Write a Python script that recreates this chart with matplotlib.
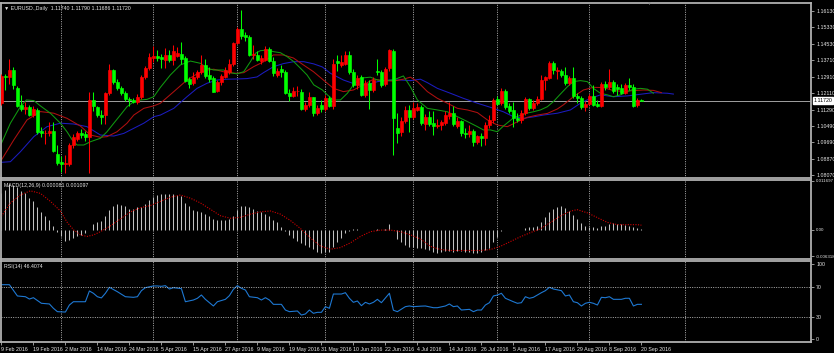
import matplotlib
matplotlib.use("Agg")
import matplotlib.pyplot as plt
import matplotlib.transforms as mtransforms
import numpy as np

plt.rcParams['font.family'] = ['Liberation Sans', 'DejaVu Sans']

# date labels, one every 8 bars starting at bar 0
date_labels = ['9 Feb 2016', '19 Feb 2016', '2 Mar 2016', '14 Mar 2016', '24 Mar 2016',
               '5 Apr 2016', '15 Apr 2016', '27 Apr 2016', '9 May 2016', '19 May 2016',
               '31 May 2016', '10 Jun 2016', '22 Jun 2016', '4 Jul 2016', '14 Jul 2016',
               '26 Jul 2016', '5 Aug 2016', '17 Aug 2016', '29 Aug 2016', '8 Sep 2016',
               '20 Sep 2016']
month_start_bars = [15, 38, 59, 81, 103, 124, 147, 171]

# EURUSD daily OHLC, 9 Feb 2016 .. 20 Sep 2016
opens = [1.1160, 1.1294, 1.1290, 1.1325, 1.1236, 1.1150, 1.1133, 1.1140, 1.1104, 1.1128,
         1.1022, 1.1012, 1.1014, 1.1024, 1.0912, 1.0870, 1.0862, 1.0864, 1.0956, 1.0985,
         1.1013, 1.1008, 1.0995, 1.1176, 1.1141, 1.1100, 1.1102, 1.1209, 1.1323, 1.1266,
         1.1233, 1.1210, 1.1180, 1.1178, 1.1166, 1.1192, 1.1290, 1.1332, 1.1380, 1.1392,
         1.1385, 1.1372, 1.1397, 1.1370, 1.1392, 1.1402, 1.1381, 1.1277, 1.1257, 1.1287,
         1.1315, 1.1348, 1.1297, 1.1283, 1.1220, 1.1266, 1.1290, 1.1315, 1.1353, 1.1457,
         1.1525, 1.1497, 1.1484, 1.1397, 1.1397, 1.1366, 1.1370, 1.1425, 1.1368, 1.1298,
         1.1330, 1.1312, 1.1212, 1.1196, 1.1218, 1.1217, 1.1130, 1.1149, 1.1189, 1.1110,
         1.1150, 1.1130, 1.1184, 1.1146, 1.1365, 1.1350, 1.1355, 1.1397, 1.1315, 1.1250,
         1.1287, 1.1200, 1.1258, 1.1225, 1.1320, 1.1313, 1.1252, 1.1332, 1.1417, 1.1037,
         1.1017, 1.1074, 1.1127, 1.1094, 1.1128, 1.1143, 1.1060, 1.1091, 1.1062, 1.1048,
         1.1055, 1.1062, 1.1095, 1.1110, 1.1050, 1.1074, 1.1015, 1.1010, 1.1025, 1.0971,
         1.1000, 1.0990, 1.1053, 1.1078, 1.1180, 1.1160, 1.1222, 1.1145, 1.1125, 1.1086,
         1.1080, 1.1112, 1.1181, 1.1135, 1.1163, 1.1181, 1.1274, 1.1285, 1.1356, 1.1318,
         1.1320, 1.1300, 1.1258, 1.1283, 1.1196, 1.1187, 1.1140, 1.1156, 1.1196, 1.1155,
         1.1148, 1.1252, 1.1240, 1.1266, 1.1240, 1.1236, 1.1212, 1.1248, 1.1240, 1.1150,
         1.1174]
highs = [1.1305, 1.1305, 1.1376, 1.1340, 1.1245, 1.1200, 1.1168, 1.1150, 1.1148, 1.1135,
         1.1042, 1.1030, 1.1068, 1.1068, 1.0955, 1.0900, 1.0905, 1.0965, 1.1010, 1.1025,
         1.1035, 1.1025, 1.1217, 1.1215, 1.1148, 1.1125, 1.1215, 1.1355, 1.1330, 1.1280,
         1.1245, 1.1220, 1.1190, 1.1185, 1.1205, 1.1300, 1.1345, 1.1407, 1.1440, 1.1420,
         1.1400, 1.1430, 1.1420, 1.1446, 1.1435, 1.1463, 1.1390, 1.1290, 1.1315, 1.1325,
         1.1395, 1.1378, 1.1340, 1.1295, 1.1275, 1.1305, 1.1338, 1.1375, 1.1462, 1.1535,
         1.1616, 1.1510, 1.1493, 1.1445, 1.1415, 1.1395, 1.1440, 1.1435, 1.1385, 1.1335,
         1.1350, 1.1325, 1.1230, 1.1240, 1.1245, 1.1230, 1.1168, 1.1215, 1.1193, 1.1150,
         1.1176, 1.1200, 1.1195, 1.1375, 1.1395, 1.1395, 1.1415, 1.1415, 1.1330, 1.1298,
         1.1298, 1.1275, 1.1275, 1.1290, 1.1378, 1.1322, 1.1340, 1.1428, 1.1425, 1.1112,
         1.1090, 1.1147, 1.1152, 1.1165, 1.1160, 1.1150, 1.1105, 1.1120, 1.1120, 1.1085,
         1.1080, 1.1120, 1.1165, 1.1145, 1.1090, 1.1080, 1.1040, 1.1055, 1.1035, 1.1005,
         1.1015, 1.1070, 1.1100, 1.1186, 1.1195, 1.1235, 1.1230, 1.1160, 1.1165, 1.1110,
         1.1125, 1.1190, 1.1185, 1.1175, 1.1195, 1.1300, 1.1295, 1.1366, 1.1365, 1.1340,
         1.1330, 1.1340, 1.1295, 1.1340, 1.1210, 1.1195, 1.1170, 1.1205, 1.1250, 1.1175,
         1.1265, 1.1270, 1.1327, 1.1275, 1.1255, 1.1255, 1.1260, 1.1285, 1.1255, 1.1186,
         1.1179]
lows = [1.1150, 1.1225, 1.1256, 1.1230, 1.1140, 1.1120, 1.1105, 1.1095, 1.1090, 1.1010,
        1.0995, 1.0958, 1.1000, 1.0920, 1.0857, 1.0820, 1.0818, 1.0850, 1.0940, 1.0975,
        1.0990, 1.0975, 1.0818, 1.1120, 1.1090, 1.1060, 1.1060, 1.1200, 1.1255, 1.1225,
        1.1200, 1.1170, 1.1145, 1.1160, 1.1155, 1.1180, 1.1280, 1.1325, 1.1360, 1.1365,
        1.1335, 1.1332, 1.1360, 1.1348, 1.1385, 1.1355, 1.1265, 1.1235, 1.1250, 1.1280,
        1.1305, 1.1285, 1.1265, 1.1215, 1.1215, 1.1250, 1.1285, 1.1305, 1.1345, 1.1450,
        1.1475, 1.1465, 1.1390, 1.1375, 1.1365, 1.1355, 1.1365, 1.1360, 1.1295, 1.1290,
        1.1290, 1.1205, 1.1170, 1.1190, 1.1195, 1.1125, 1.1120, 1.1140, 1.1098, 1.1100,
        1.1118, 1.1122, 1.1140, 1.1130, 1.1320, 1.1340, 1.1350, 1.1305, 1.1240, 1.1232,
        1.1195, 1.1190, 1.1130, 1.1215, 1.1300, 1.1240, 1.1245, 1.1320, 1.0906, 1.0965,
        1.1000, 1.1065, 1.1020, 1.1085, 1.1120, 1.1055, 1.1030, 1.1050, 1.1004, 1.1040,
        1.1030, 1.1055, 1.1085, 1.1050, 1.1040, 1.1000, 1.0990, 1.0995, 1.0950, 1.0960,
        1.0952, 1.0955, 1.1040, 1.1065, 1.1150, 1.1150, 1.1130, 1.1110, 1.1045, 1.1070,
        1.1065, 1.1100, 1.1125, 1.1125, 1.1150, 1.1175, 1.1225, 1.1280, 1.1305, 1.1280,
        1.1290, 1.1250, 1.1250, 1.1185, 1.1160, 1.1130, 1.1120, 1.1150, 1.1145, 1.1140,
        1.1140, 1.1225, 1.1230, 1.1210, 1.1200, 1.1205, 1.1205, 1.1225, 1.1140, 1.1140,
        1.11686]
closes = [1.1294, 1.1290, 1.1325, 1.1250, 1.1148, 1.1133, 1.1140, 1.1104, 1.1132, 1.1020,
          1.1012, 1.1014, 1.1024, 1.0925, 1.0866, 1.0862, 1.0869, 1.0956, 1.0995, 1.1013,
          1.1006, 1.0995, 1.1176, 1.1145, 1.1100, 1.1090, 1.1209, 1.1325, 1.1266, 1.1233,
          1.1209, 1.1180, 1.1176, 1.1166, 1.1192, 1.1290, 1.1332, 1.1386, 1.1390, 1.1382,
          1.1376, 1.1397, 1.1370, 1.1414, 1.1405, 1.1376, 1.1271, 1.1255, 1.1287, 1.1315,
          1.1349, 1.1293, 1.1278, 1.1217, 1.1266, 1.1294, 1.1323, 1.1353, 1.1454, 1.1525,
          1.1488, 1.1484, 1.1397, 1.1402, 1.1372, 1.1380, 1.1425, 1.1368, 1.1307, 1.1318,
          1.1312, 1.1212, 1.1196, 1.1218, 1.1222, 1.1130, 1.1151, 1.1189, 1.1111, 1.1135,
          1.1130, 1.1184, 1.1146, 1.1353, 1.1357, 1.1360, 1.1397, 1.1315, 1.1250, 1.1283,
          1.1200, 1.1258, 1.1225, 1.1274, 1.1313, 1.1250, 1.1327, 1.1421, 1.1086, 1.1015,
          1.1074, 1.1127, 1.1094, 1.1136, 1.1143, 1.1062, 1.1091, 1.1060, 1.1048, 1.1055,
          1.1068, 1.1102, 1.1113, 1.1058, 1.1074, 1.1012, 1.1010, 1.1025, 1.0971, 1.0999,
          1.0988, 1.1053, 1.1078, 1.1176, 1.1156, 1.1222, 1.1140, 1.1123, 1.1086, 1.1080,
          1.1112, 1.1181, 1.1135, 1.1163, 1.1181, 1.1274, 1.1287, 1.1356, 1.1323, 1.1322,
          1.1299, 1.1258, 1.1283, 1.1196, 1.1187, 1.1140, 1.1156, 1.1196, 1.1151, 1.1148,
          1.1255, 1.1240, 1.1266, 1.1222, 1.1232, 1.1212, 1.1250, 1.1240, 1.1146, 1.1176,
          1.1172]

# Alligator lines (bar position, price)
jaw_bar = [0, 2.25, 4.75, 8.1, 11.4, 14.75, 18.1, 21.4, 24.75, 28.1, 30.6, 33.1, 35.6, 38.1,
           39.75, 43.1, 46.4, 48.9, 51.4, 53.9, 56.4, 58.9, 61.4, 63.9, 65.6, 68.1, 70.6,
           73.1, 75.6, 78.1, 80.25, 82.25, 85.5, 89, 91.5, 94, 97.25, 99.75, 102.25, 104.75,
           106.5, 109, 112.25, 115.5, 119, 122.25, 125.5, 128, 130.5, 133, 135.5, 139,
           142.25, 144.75, 147.25, 149.75, 153, 156.5, 159.75, 163, 166.5, 168]
jaw_val = [1.0870, 1.0873, 1.0922, 1.0996, 1.1045, 1.1062, 1.1058, 1.1045, 1.1004, 1.0999,
           1.1012, 1.1037, 1.1062, 1.1094, 1.1102, 1.1135, 1.1192, 1.1233, 1.1258, 1.1274,
           1.1278, 1.1279, 1.1281, 1.1289, 1.1311, 1.1340, 1.1355, 1.1364, 1.1364, 1.1353,
           1.1338, 1.1307, 1.1274, 1.1250, 1.1250, 1.1266, 1.1274, 1.1274, 1.1271, 1.1278,
           1.1261, 1.1233, 1.1209, 1.1184, 1.1160, 1.1140, 1.1118, 1.1094, 1.1086, 1.1093,
           1.1102, 1.1111, 1.1127, 1.1160, 1.1184, 1.1201, 1.1192, 1.1196, 1.1204, 1.1212,
           1.1209, 1.1205]
teeth_bar = [0, 3.1, 6.4, 9.75, 13.1, 16.4, 19.75, 22.25, 24.75, 26.4, 28.9, 31.4, 33.1,
             35.6, 38.1, 39.75, 43.1, 46.4, 48.9, 51.4, 53.1, 56.4, 58.9, 60.6, 63.1, 65.5,
             68, 70.5, 73, 75.5, 78, 80.5, 83, 85.5, 88, 90.5, 93, 95.5, 98, 100.5, 102.25,
             104, 106.5, 109, 111.5, 114, 116.5, 119, 121.5, 124, 126.5, 129, 131.5, 134,
             136.5, 139, 140.5, 143, 145.5, 148, 150.5, 153, 155.5, 158, 160.5, 163, 165]
teeth_val = [1.0881, 1.0980, 1.1078, 1.1119, 1.1111, 1.1086, 1.1048, 1.1004, 1.0993, 1.0996,
             1.1020, 1.1062, 1.1102, 1.1135, 1.1147, 1.1160, 1.1217, 1.1274, 1.1304, 1.1323,
             1.1327, 1.1310, 1.1307, 1.1310, 1.1340, 1.1363, 1.1397, 1.1397, 1.1382, 1.1348,
             1.1315, 1.1274, 1.1233, 1.1217, 1.1225, 1.1250, 1.1278, 1.1271, 1.1269, 1.1278,
             1.1288, 1.1266, 1.1217, 1.1184, 1.1160, 1.1135, 1.1127, 1.1114, 1.1078, 1.1053,
             1.1045, 1.1069, 1.1091, 1.1102, 1.1110, 1.1132, 1.1152, 1.1192, 1.1225, 1.1238,
             1.1237, 1.1222, 1.1218, 1.1222, 1.1225, 1.1223, 1.1212]
lips_bar = [0, 2.25, 4.75, 6.25, 8.1, 9.75, 12.25, 14.75, 16.4, 17.7, 18.9, 20.6, 22.25,
            24.75, 26.4, 28.1, 29.75, 31.4, 33.1, 34.75, 36.4, 38.1, 39.75, 42.25, 44.75,
            47.25, 49.75, 51.4, 53.1, 55.6, 57.25, 58.9, 60.6, 62.25, 63.5, 64.75, 66.4,
            68.1, 69.75, 71.4, 73.1, 74.75, 76.4, 78.1, 80.25, 81.5, 83, 84.75, 86.5, 88,
            89.75, 92.25, 94, 95.5, 98, 100.5, 102.25, 104, 106.5, 109, 111.5, 114, 116.5,
            119, 120.5, 122.25, 124, 125.5, 128, 131.5, 133, 134.75, 136.5, 138, 139.75,
            141.5, 143, 144.75, 146.5, 148, 149.75, 151.5, 153, 154.75, 156.5, 158, 159.75,
            161.5, 163]
lips_val = [1.0963, 1.1062, 1.1143, 1.1176, 1.1173, 1.1147, 1.1111, 1.1062, 1.1020, 1.0980,
            1.0955, 1.0955, 1.0971, 1.0988, 1.1020, 1.1062, 1.1102, 1.1143, 1.1168, 1.1176,
            1.1179, 1.1192, 1.1238, 1.1299, 1.1348, 1.1367, 1.1356, 1.1332, 1.1323, 1.1323,
            1.1310, 1.1304, 1.1315, 1.1364, 1.1405, 1.1418, 1.1421, 1.1413, 1.1408, 1.1389,
            1.1364, 1.1332, 1.1299, 1.1250, 1.1225, 1.1201, 1.1176, 1.1176, 1.1209, 1.1250,
            1.1283, 1.1288, 1.1274, 1.1271, 1.1274, 1.1294, 1.1241, 1.1176, 1.1135, 1.1127,
            1.1118, 1.1094, 1.1070, 1.1045, 1.1029, 1.1029, 1.1020, 1.1048, 1.1088, 1.1112,
            1.1118, 1.1127, 1.1143, 1.1168, 1.1205, 1.1241, 1.1266, 1.1271, 1.1266, 1.1233,
            1.1209, 1.1201, 1.1192, 1.1201, 1.1217, 1.1229, 1.1233, 1.1229, 1.1209]

# MACD(12,26,9) main line (histogram), one value per bar
macd_main = [0.00872, 0.00964, 0.01102, 0.01063, 0.01025, 0.00933, 0.00887, 0.00757, 0.00681, 0.00551,
             0.00428, 0.00337, 0.00222, 0.00092, -0.00046, -0.00161, -0.00260, -0.00237, -0.00199, -0.00161,
             -0.00122, -0.00084, -0.00015, 0.00145, 0.00184, 0.00199, 0.00337, 0.00474, 0.00566, 0.00620,
             0.00604, 0.00566, 0.00505, 0.00505, 0.00551, 0.00543, 0.00620, 0.00704, 0.00796, 0.00834,
             0.00857, 0.00857, 0.00849, 0.00849, 0.00834, 0.00811, 0.00643, 0.00581, 0.00474, 0.00451,
             0.00428, 0.00375, 0.00337, 0.00260, 0.00222, 0.00222, 0.00222, 0.00260, 0.00337, 0.00474,
             0.00566, 0.00566, 0.00551, 0.00490, 0.00451, 0.00428, 0.00375, 0.00337, 0.00222, 0.00184,
             0.00069, -0.00031, -0.00122, -0.00199, -0.00260, -0.00314, -0.00367, -0.00413, -0.00467, -0.00543,
             -0.00566, -0.00543, -0.00528, -0.00413, -0.00291, -0.00199, -0.00084, -0.00031, 0.00008, 0.00008,
             -0.00008, 0.00002, -0.00008, 0.00002, 0.00008, 0.00002, 0.00015, 0.00145, -0.00008, -0.00214,
             -0.00291, -0.00367, -0.00413, -0.00413, -0.00428, -0.00436, -0.00459, -0.00497, -0.00528, -0.00551,
             -0.00528, -0.00513, -0.00513, -0.00528, -0.00513, -0.00513, -0.00528, -0.00528, -0.00551, -0.00551,
             -0.00528, -0.00497, -0.00436, -0.00298, -0.00168, -0.00023, -0.00008, 0.00004, 0.00004, 0.00004,
             0.00004, 0.00038, 0.00054, 0.00069, 0.00084, 0.00191, 0.00306, 0.00421, 0.00497, 0.00536,
             0.00558, 0.00520, 0.00444, 0.00344, 0.00252, 0.00161, 0.00084, 0.00060, 0.00070, 0.00038,
             0.00084, 0.00099, 0.00138, 0.00153, 0.00138, 0.00138, 0.00115, 0.00099, 0.00061, 0.00038,
             0.000081]
signal_bar = [0, 2.25, 4.75, 7.25, 9.75, 12.25, 14.75, 16.4, 18.1, 19.75, 21.4, 23.1, 24.75,
              27.25, 29.75, 32.25, 34.75, 37.25, 39.75, 42.25, 44.75, 47.25, 49.75, 52.25,
              54.75, 57.25, 59.75, 62.25, 64.75, 67.25, 69.75, 72.25, 74.75, 77.25, 79.75,
              82.25, 84.75, 87.25, 89.75, 92.25, 94.75, 97.25, 99.75, 102.25, 104.75, 107.25,
              109.75, 112.25, 114.75, 117.25, 119.75, 122.25, 124.75, 127.25, 129.75, 132.25,
              134.75, 137.25, 139.75, 142.25, 143.9, 146.5, 149, 151.5, 154, 156.5, 159, 160]
signal_val = [0.00321, 0.00643, 0.00834, 0.00933, 0.00872, 0.00681, 0.00451, 0.00184, -0.00008,
              -0.00122, -0.00161, -0.00122, -0.00046, 0.00092, 0.00260, 0.00428, 0.00528,
              0.00581, 0.00681, 0.00780, 0.00834, 0.00757, 0.00643, 0.00490, 0.00337, 0.00275,
              0.00298, 0.00375, 0.00428, 0.00451, 0.00375, 0.00222, 0.00031, -0.00199,
              -0.00390, -0.00467, -0.00428, -0.00314, -0.00161, -0.00046, -0.00008, -0.00008,
              -0.00046, -0.00122, -0.00220, -0.00398, -0.00474, -0.00497, -0.00497, -0.00497,
              -0.00497, -0.00474, -0.00398, -0.00283, -0.00168, -0.00069, 0.00023, 0.00176,
              0.00329, 0.00444, 0.00482, 0.00405, 0.00291, 0.00176, 0.00122, 0.00122, 0.00122,
              0.001097]

# RSI(14) (bar position, value)
rsi_bar = [0, 2, 4, 6, 7, 8, 10, 12, 13, 14, 16, 17, 18, 21, 22, 23, 24, 25, 26, 27,
           29, 31, 33, 34, 35, 36, 38, 39, 40, 41, 42, 43, 45, 46, 48, 49, 50, 51, 53, 54,
           56, 57, 58, 59, 60, 61, 62, 64, 65, 66, 67, 68, 70, 71, 72, 74, 75, 76, 77, 78,
           79, 80, 81, 82, 83, 85, 86, 87, 88, 89, 90, 91, 92, 93, 94, 95, 97, 98, 99, 101,
           102, 103, 105, 106, 108, 109, 111, 112, 113, 114, 115, 117, 118, 119, 120, 121, 122, 123, 124, 125,
           126, 128, 129, 130, 131, 132, 133, 135, 136, 137, 138, 140, 141, 142, 143, 144, 145, 146, 147, 148,
           149, 150, 151, 152, 153, 155, 156, 157, 158, 159, 160]
rsi_val = [72.7, 72.7, 57.6, 56.6, 53.5, 55.3, 47.8, 46.9, 41.1, 36.6, 36.1, 45.5, 49.9, 49.9, 64.3, 61.2, 56.6, 55.0, 61.2, 69.2,
           63.3, 56.6, 55.8, 56.6, 64.7, 68.7, 71.0, 71.0, 70.5, 71.4, 66.9, 68.7, 67.4, 49.9, 52.2, 54.5, 58.9, 53.1, 44.2, 49.9,
           53.1, 58.0, 66.5, 71.4, 67.8, 65.6, 56.6, 55.3, 52.2, 55.3, 52.2, 46.4, 46.4, 38.8, 36.6, 37.5, 32.1, 33.5, 38.8, 34.4,
           35.7, 35.7, 43.3, 41.1, 60.2, 60.2, 62.0, 54.5, 49.1, 50.9, 44.6, 49.1, 46.9, 49.1, 53.1, 48.6, 61.2, 38.5, 36.6, 43.3,
           44.2, 43.3, 44.0, 44.2, 41.9, 41.9, 44.2, 46.9, 43.3, 44.2, 38.8, 39.7, 36.6, 38.8, 38.8, 45.5, 48.6, 57.6, 58.9, 61.2,
           54.5, 49.9, 47.8, 48.6, 56.6, 54.5, 55.8, 62.0, 64.7, 69.2, 66.9, 64.7, 57.6, 58.9, 49.9, 48.6, 44.2, 47.8, 49.1, 47.8,
           45.5, 55.8, 55.3, 56.6, 53.1, 53.1, 54.5, 54.5, 44.2, 46.4, 46.4]

price_ticks = [1.16130, 1.15330, 1.14530, 1.13710, 1.12910, 1.12110, 1.11290,
               1.10490, 1.09690, 1.08870, 1.08070]
macd_ticks = [0.011697, 0.0, -0.006318]
macd_tick_labels = ['0.011697', '0.00', '-0.006318']
rsi_ticks = [100, 70, 30, 0]

W, H = 834, 353
fig = plt.figure(figsize=(W / 100, H / 100), dpi=100, facecolor='black')


def px_box(x0, y0, x1, y1):
    return [x0 / W, 1 - y1 / H, (x1 - x0) / W, (y1 - y0) / H]


ax = fig.add_axes(px_box(1, 3, 811, 178))
ax_m = fig.add_axes(px_box(1, 180, 811, 258.5))
ax_r = fig.add_axes(px_box(1, 261, 811, 342))

txt = '#e8e8e8'
frame = '#b0b0b0'
grid_col = '#c8c8c8'
fs = 3.8

for a in (ax, ax_m, ax_r):
    a.set_facecolor('black')
    a.set_xlim(-0.1, 202.4)
    for s in a.spines.values():
        s.set_color(frame)
        s.set_linewidth(1.3)
    for b in month_start_bars:
        a.axvline(b, color=grid_col, lw=0.6, ls=(0, (1.2, 1.6)), zorder=0.5)
    a.yaxis.tick_right()
    a.tick_params(axis='y', length=2.5, width=0.6, colors=frame, labelcolor=txt,
                  labelsize=fs, pad=1.2)
    a.tick_params(axis='x', length=0, labelbottom=False)

# main price chart
x = np.arange(len(closes))
o = np.array(opens)
c = np.array(closes)
col = np.where(c > o, '#ff0000', '#00ff00')
ax.vlines(x, lows, highs, colors=col, linewidth=0.75, zorder=3)
ax.bar(x, np.abs(c - o), bottom=np.minimum(o, c), width=0.6, color=col,
       edgecolor=col, linewidth=0.45, zorder=4)
ax.plot(jaw_bar, jaw_val, color='#1c1cc0', lw=0.75, zorder=2)
ax.plot(teeth_bar, teeth_val, color='#b01010', lw=0.75, zorder=2)
ax.plot(lips_bar, lips_val, color='#109a10', lw=0.75, zorder=2)
ax.axhline(closes[-1], color='#a0a0a0', lw=0.7, zorder=1)
ax.set_ylim(1.0793, 1.1652)
ax.set_yticks(price_ticks)
ax.set_yticklabels(['%.5f' % p for p in price_ticks])
trans = mtransforms.blended_transform_factory(ax.transAxes, ax.transData)
ax.text(1.003, closes[-1], '%.5f' % closes[-1], transform=trans, fontsize=fs,
        color='black', va='center', ha='left',
        bbox=dict(boxstyle='square,pad=0.15', fc='white', ec='white'), clip_on=False)
ax.text(0.004, 0.985, '\u25bc EURUSD.,Daily  1.11740 1.11790 1.11686 1.11720',
        transform=ax.transAxes, fontsize=fs, color=txt, va='top', ha='left')
ax.text(0.7988, 1.0, '\u25bc', transform=ax.transAxes, fontsize=3.5, color='#909090',
        va='center', ha='center', clip_on=False)

# MACD panel
ax_m.vlines(x, 0, macd_main, colors='#c0c0c0', linewidth=0.75)
ax_m.plot(signal_bar, signal_val, color='#d00000', lw=0.8, ls=(0, (1, 1.3)))
ax_m.set_ylim(-0.006892, 0.011926)
ax_m.set_yticks(macd_ticks)
ax_m.set_yticklabels(macd_tick_labels)
ax_m.tick_params(axis='y', labelsize=3.2, pad=0.8)
ax_m.text(0.004, 0.96, 'MACD(12,26,9) 0.000081 0.001097', transform=ax_m.transAxes,
          fontsize=fs, color=txt, va='top', ha='left')

# RSI panel
ax_r.plot(rsi_bar, rsi_val, color='#1e78d2', lw=0.8)
for lvl in (70, 30):
    ax_r.axhline(lvl, color=grid_col, lw=0.6, ls=(0, (1.2, 1.6)))
ax_r.set_ylim(-4.0, 104.4)
ax_r.set_yticks(rsi_ticks)
ax_r.set_yticklabels([str(v) for v in rsi_ticks])
ax_r.text(0.004, 0.96, 'RSI(14) 46.4074', transform=ax_r.transAxes,
          fontsize=fs, color=txt, va='top', ha='left')
ax_r.set_xticks(np.arange(0, len(closes), 8))
ax_r.set_xticklabels(date_labels)
ax_r.tick_params(axis='x', length=2.5, width=0.6, colors=frame, labelcolor=txt,
                 labelsize=fs, pad=1.0, labelbottom=True, direction='out')
for lab in ax_r.get_xticklabels():
    lab.set_ha('left')

fig.savefig('out.png', dpi=100, facecolor='black')
